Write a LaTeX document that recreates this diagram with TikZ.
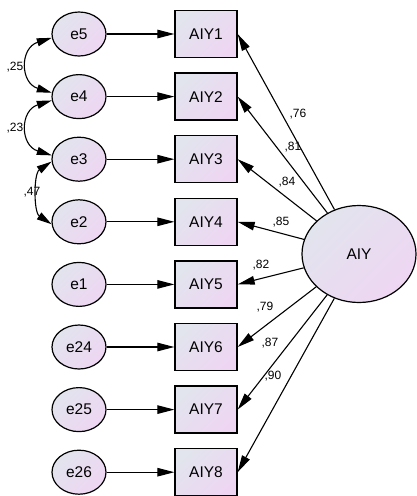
\documentclass[tikz,border=0pt]{standalone}
\usepackage{fontspec}
\setmainfont{Liberation Sans}
\usepackage{tikz}
\usetikzlibrary{arrows.meta,shapes.geometric}

\definecolor{semA}{RGB}{226,228,238}
\definecolor{semB}{RGB}{238,214,242}
\newcommand{\semfont}{\fontsize{15.5}{18}\selectfont}
\newcommand{\wfont}{\fontsize{12}{14}\selectfont}

\tikzset{
  semfill/.style={top color=semA,bottom color=semB,shading angle=45},
  errnode/.style={ellipse,draw,line width=1.2pt,minimum width=54pt,minimum height=44pt,inner sep=0pt,semfill,font=\semfont},
  itembox/.style={rectangle,draw,line width=1.3pt,minimum width=62pt,minimum height=47pt,inner sep=0pt,semfill,font=\semfont},
  latent/.style={ellipse,draw,line width=1.2pt,minimum width=114pt,minimum height=97pt,inner sep=0pt,semfill,font=\semfont},
  arr/.style={line width=1.1pt,-{Triangle[length=17pt,width=8.5pt]}},
  covar/.style={line width=1.1pt,{Triangle[length=15pt,width=8pt]}-{Triangle[length=15pt,width=8pt]}},
  wlabel/.style={font=\wfont,inner sep=0pt}
}

\begin{document}
\begin{tikzpicture}[x=1pt,y=-1pt]
\useasboundingbox (0,0) rectangle (417,496);
% errors, items and their paths
\foreach \e [count=\i] in {5,4,3,2,1,24,25,26}{
  \node[errnode] (e\e) at (79,{34+62.6*(\i-1)}) {e\e};
  \node[itembox] (AIY\i) at (206,{34+62.6*(\i-1)}) {AIY\i};
  \draw[arr] (e\e) -- (AIY\i);
}
% latent factor
\node[latent] (AIY) at (359,254) {AIY};
\foreach \i in {1,...,8}
  \draw[arr] (AIY) -- (AIY\i.east);
% loadings
\node[wlabel] (w1) at (298,114) {,76};
\node[wlabel] (w2) at (293,147) {,81};
\node[wlabel] (w3) at (287,182) {,84};
\node[wlabel] (w4) at (281,222) {,85};
\node[wlabel] (w5) at (261,265) {,82};
\node[wlabel] (w6) at (265,307) {,79};
\node[wlabel] (w7) at (270,343) {,87};
\node[wlabel] (w8) at (273,376) {,90};
% covariances
\draw[covar] (e5.188) .. controls +(-32,10) and +(-32,-10) .. (e4.172);
\draw[covar] (e4.188) .. controls +(-32,10) and +(-32,-10) .. (e3.172);
\draw[covar] (e3.185) .. controls +(-18,12) and +(-18,-12) .. (e2.185);
\node[wlabel] (c1) at (15,67) {,25};
\node[wlabel] (c2) at (15,128) {,23};
\node[wlabel] (c3) at (32,192) {,47};
\end{tikzpicture}
\end{document}
